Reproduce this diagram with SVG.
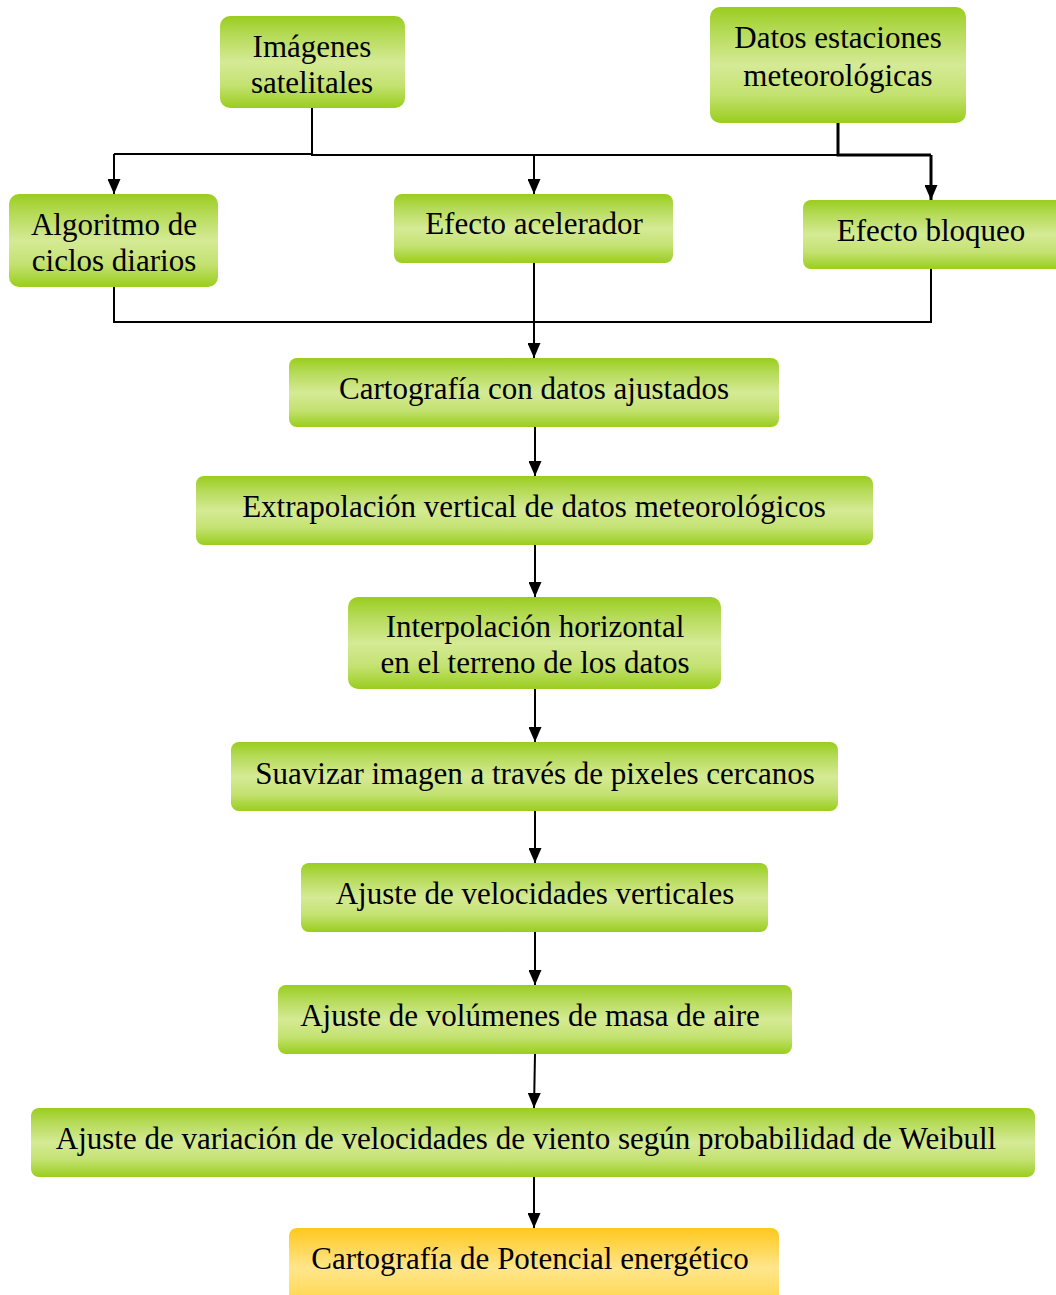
<svg xmlns="http://www.w3.org/2000/svg" width="1056" height="1295" viewBox="0 0 1056 1295">
<defs>
<linearGradient id="g" x1="0" y1="0" x2="0" y2="1">
<stop offset="0" stop-color="#9acd1e"/>
<stop offset="0.2" stop-color="#b4da55"/>
<stop offset="0.5" stop-color="#d5ea95"/>
<stop offset="0.75" stop-color="#c4e272"/>
<stop offset="1" stop-color="#9acd1e"/>
</linearGradient>
<linearGradient id="o" x1="0" y1="0" x2="0" y2="1">
<stop offset="0" stop-color="#ffc81e"/>
<stop offset="0.5" stop-color="#ffe68c"/>
<stop offset="1" stop-color="#ffd440"/>
</linearGradient>
<marker id="a" viewBox="0 0 15 13" refX="15" refY="6.5" markerWidth="15" markerHeight="13" markerUnits="userSpaceOnUse" orient="auto">
<path d="M0,0 L15,6.5 L0,13 Z" fill="#000"/>
</marker>
</defs>
<style>
.b{fill:url(#g);}
.y{fill:url(#o);}
text{font-family:"Liberation Serif","Times New Roman",serif;font-size:31px;fill:#000;text-anchor:middle;}
.c{fill:none;stroke:#000;stroke-width:2;}
.ca{fill:none;stroke:#000;stroke-width:2;marker-end:url(#a);}
</style>
<g id="connectors">
<path class="c" d="M312,108 V154 H114"/>
<path class="ca" d="M114,154 V194"/>
<path class="c" d="M312,154 V155 H838"/>
<path class="ca" d="M534,155 V194"/>
<path class="c" d="M838,123 V155 H931" style="stroke-width:3"/>
<path class="ca" d="M931,155 V200" style="stroke-width:3"/>
<path class="c" d="M114,287 V322 H931 V269"/>
<path class="ca" d="M534,263 V358"/>
<path class="ca" d="M535,427 V476"/>
<path class="ca" d="M535,545 V597"/>
<path class="ca" d="M535,689 V742"/>
<path class="ca" d="M535,811 V863"/>
<path class="ca" d="M535,932 V985"/>
<path class="ca" d="M535,1054 L534,1108"/>
<path class="ca" d="M534,1177 V1228"/>
</g>
<g id="n1"><rect class="b" x="220" y="16" width="185" height="92" rx="10"/><text x="312" y="57">Imágenes</text><text x="312" y="93">satelitales</text></g>
<g id="n2"><rect class="b" x="710" y="7" width="256" height="116" rx="10"/><text x="838" y="48">Datos estaciones</text><text x="838" y="86">meteorológicas</text></g>
<g id="n3"><rect class="b" x="9" y="194" width="209" height="93" rx="10"/><text x="114" y="235">Algoritmo de</text><text x="114" y="271">ciclos diarios</text></g>
<g id="n4"><rect class="b" x="394" y="194" width="279" height="69" rx="8"/><text x="534" y="234">Efecto acelerador</text></g>
<g id="n5"><rect class="b" x="803" y="200" width="260" height="69" rx="8"/><text x="931" y="241">Efecto bloqueo</text></g>
<g id="n6"><rect class="b" x="289" y="358" width="490" height="69" rx="8"/><text x="534" y="399">Cartografía con datos ajustados</text></g>
<g id="n7"><rect class="b" x="196" y="476" width="677" height="69" rx="8"/><text x="534" y="517">Extrapolación vertical de datos meteorológicos</text></g>
<g id="n8"><rect class="b" x="348" y="597" width="373" height="92" rx="10"/><text x="535" y="637">Interpolación horizontal</text><text x="535" y="673">en el terreno de los datos</text></g>
<g id="n9"><rect class="b" x="231" y="742" width="607" height="69" rx="8"/><text x="535" y="784">Suavizar imagen a través de pixeles cercanos</text></g>
<g id="n10"><rect class="b" x="301" y="863" width="467" height="69" rx="8"/><text x="535" y="904">Ajuste de velocidades verticales</text></g>
<g id="n11"><rect class="b" x="278" y="985" width="514" height="69" rx="8"/><text x="530" y="1026">Ajuste de volúmenes de masa de aire</text></g>
<g id="n12"><rect class="b" x="31" y="1108" width="1004" height="69" rx="8"/><text x="526" y="1149">Ajuste de variación de velocidades de viento según probabilidad de Weibull</text></g>
<g id="n13"><rect class="y" x="289" y="1228" width="490" height="80" rx="8"/><text x="530" y="1269">Cartografía de Potencial energético</text></g>
</svg>
